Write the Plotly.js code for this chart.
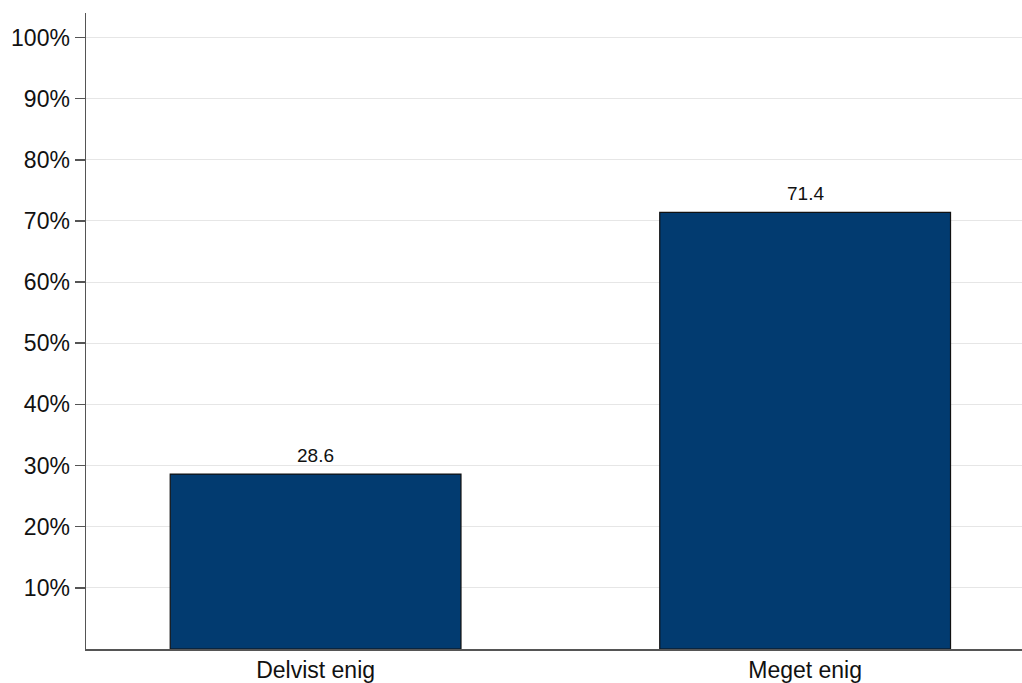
<!DOCTYPE html>
<html>
<head>
<meta charset="utf-8">
<script src="https://cdn.plot.ly/plotly-3.0.1.min.js"></script>
<style>html,body{margin:0;padding:0;background:#fff;}#chart{width:1022px;height:683px;}</style>
</head>
<body>
<div id="chart"></div>
<script>
const categories = ["Delvist enig", "Meget enig"];
const values = [28.6, 71.4];
const labels = ["28.6", "71.4"];
const yTickVals = [10, 20, 30, 40, 50, 60, 70, 80, 90, 100];
const yTickText = ["10%", "20%", "30%", "40%", "50%", "60%", "70%", "80%", "90%", "100%"];

const font = "Liberation Sans, Arial, Helvetica, sans-serif";

const trace = {
  type: "bar",
  x: [0, 1],
  y: values,
  width: 0.594,
  marker: {color: "#023b70", line: {color: "#111111", width: 1.2}},
  hoverinfo: "skip"
};

const annotations = values.map((v, i) => ({
  x: i, y: v, text: labels[i], showarrow: false,
  xanchor: "center", yanchor: "bottom", yshift: 6,
  font: {family: font, size: 19, color: "#111"}
}));

const layout = {
  width: 1022, height: 683,
  margin: {l: 86, r: 0, t: 13, b: 34},
  paper_bgcolor: "#fff", plot_bgcolor: "#fff",
  showlegend: false,
  font: {family: font, color: "#111"},
  xaxis: {
    range: [-0.469, 1.443],
    tickvals: [0, 1], ticktext: categories,
    showgrid: false, zeroline: false,
    showline: true, linecolor: "#555", linewidth: 1.5,
    ticks: "", tickfont: {family: font, size: 23, color: "#111"}
  },
  yaxis: {
    range: [0, 104],
    tickvals: yTickVals, ticktext: yTickText,
    showgrid: true, gridcolor: "#e6e6e6", gridwidth: 1,
    zeroline: false,
    showline: true, linecolor: "#555", linewidth: 1.5,
    ticks: "outside", ticklen: 10, tickwidth: 1.5, tickcolor: "#555",
    tickfont: {family: font, size: 23, color: "#111"}
  },
  annotations: annotations
};

Plotly.newPlot("chart", [trace], layout, {displayModeBar: false, staticPlot: true});
</script>
</body>
</html>
